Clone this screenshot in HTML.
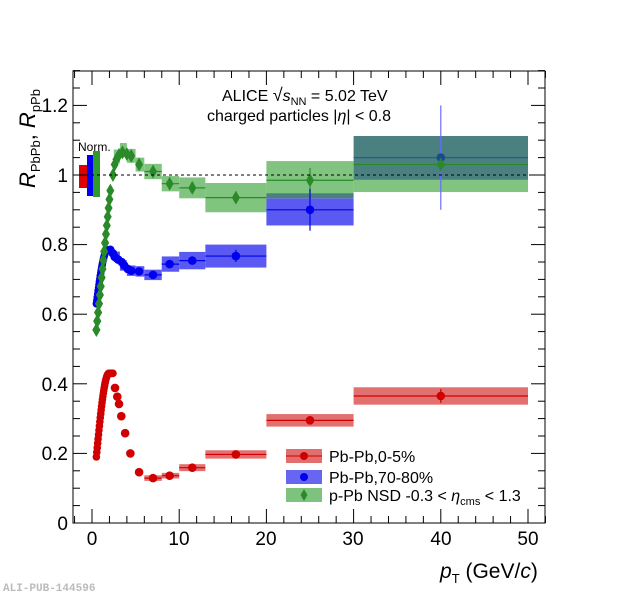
<!DOCTYPE html>
<html><head><meta charset="utf-8"><style>
body{margin:0;background:#fff;}
svg{display:block;font-family:"Liberation Sans",sans-serif;}
</style></head><body>
<svg id="s" width="620" height="595" xmlns="http://www.w3.org/2000/svg">
<rect width="620" height="595" fill="#fff"/>
<g id="boxes"></g>
<g id="pts"></g>
<line x1="73" y1="175" x2="545" y2="175" stroke="#000" stroke-dasharray="3,3" stroke-width="1"/>
<rect x="73" y="71" width="472" height="452" fill="none" stroke="#000" stroke-width="1"/>
<g id="ticks" stroke="#000" stroke-width="1"></g>
<g font-size="19" fill="#000">
<text x="92" y="545" text-anchor="middle">0</text>
<text x="179" y="545" text-anchor="middle">10</text>
<text x="266" y="545" text-anchor="middle">20</text>
<text x="353" y="545" text-anchor="middle">30</text>
<text x="441" y="545" text-anchor="middle">40</text>
<text x="528" y="545" text-anchor="middle">50</text>
<text x="68" y="530" text-anchor="end">0</text>
<text x="68" y="460" text-anchor="end">0.2</text>
<text x="68" y="391" text-anchor="end">0.4</text>
<text x="68" y="321" text-anchor="end">0.6</text>
<text x="68" y="251" text-anchor="end">0.8</text>
<text x="68" y="182" text-anchor="end">1</text>
<text x="68" y="112" text-anchor="end">1.2</text>
</g>
<text x="78" y="151" font-size="12">Norm.</text>
<text x="222" y="101" font-size="16">ALICE <tspan font-size="18">√</tspan><tspan font-style="italic">s</tspan><tspan font-size="11" dy="4">NN</tspan><tspan dy="-4"> = 5.02 TeV</tspan></text>
<text x="207" y="121" font-size="16">charged particles |<tspan font-style="italic">η</tspan>| &lt; 0.8</text>
<text transform="translate(35,188) rotate(-90)" font-size="22"><tspan font-style="italic">R</tspan><tspan font-size="13" dy="5">PbPb</tspan><tspan dy="-5">, </tspan><tspan font-style="italic">R</tspan><tspan font-size="13" dy="5">pPb</tspan></text>
<text x="440" y="578" font-size="21"><tspan font-style="italic">p</tspan><tspan font-size="13" dy="5">T</tspan><tspan dy="-5"> (GeV/</tspan><tspan font-style="italic">c</tspan>)</text>
<text x="3" y="591" font-size="11" font-family="Liberation Mono,monospace" font-weight="bold" fill="#bbb">ALI-PUB-144596</text>
<g font-size="16">
<rect x="286" y="449" width="36" height="14" fill="#dd5555" opacity="0.85"/><line x1="286" y1="456" x2="322" y2="456" stroke="#c00"/><circle cx="304" cy="456" r="4" fill="#c00"/>
<text x="329" y="462">Pb-Pb,0-5%</text>
<rect x="286" y="470" width="36" height="14" fill="#5555ee" opacity="0.9"/><circle cx="304" cy="477" r="4" fill="#00e"/>
<text x="329" y="483">Pb-Pb,70-80%</text>
<rect x="286" y="488" width="36" height="14" fill="#66b866" opacity="0.85"/><path d="M304,489 l3.5,6 l-3.5,6 l-3.5,-6z" fill="#2a8a2a"/>
<text x="329" y="501">p-Pb NSD -0.3 &lt; <tspan font-style="italic">η</tspan><tspan font-size="11" dy="4">cms</tspan><tspan dy="-4"> &lt; 1.3</tspan></text>
</g>
</svg>
<script>
var X=function(v){return 92+v*8.72},Y=function(v){return 523-v*348};
var NS="http://www.w3.org/2000/svg";
function el(p,t,a){var e=document.createElementNS(NS,t);for(var k in a)e.setAttribute(k,a[k]);p.appendChild(e);return e;}
var tk=document.getElementById('ticks');
for(var i=-2;i<=52;i+=2){var L=(i%10==0)?14:7;el(tk,'line',{x1:X(i),x2:X(i),y1:523,y2:523-L});el(tk,'line',{x1:X(i),x2:X(i),y1:71,y2:71+L});}
for(var j=0;j<=26;j++){var v=j*0.05;var L=(j%4==0)?14:7;el(tk,'line',{x1:73,x2:73+L,y1:Y(v),y2:Y(v)});el(tk,'line',{x1:545,x2:545-L,y1:Y(v),y2:Y(v)});}
var bx=document.getElementById('boxes');
function box(a,b,lo,hi,c,op){el(bx,'rect',{x:X(a),y:Y(hi),width:X(b)-X(a),height:Y(lo)-Y(hi),fill:c,opacity:op});}
el(bx,'rect',{x:79,y:165,width:8,height:23,fill:'#dd0000'});
el(bx,'rect',{x:87,y:155,width:6,height:41,fill:'#0000ee'});
el(bx,'rect',{x:93,y:151,width:7,height:46,fill:'#2e9a2e'});
var R='#e06060',B='#5a5af2',G='#80c480',T='#4a8080';
[[6,8,0.129,0.008],[8,10,0.136,0.008],[10,13,0.159,0.01],[13,20,0.197,0.012],[20,30,0.295,0.018],[30,50,0.365,0.025]].forEach(function(d){box(d[0],d[1],d[2]-d[3],d[2]+d[3],R,0.9);});
[[2.5,3.2,1.053,0.02],[3.2,4,1.072,0.02],[4,5,1.055,0.02],[5,6,1.03,0.02],[6,8,1.01,0.022],[8,10,0.975,0.022],[10,13,0.963,0.03],[13,20,0.935,0.042]].forEach(function(d){box(d[0],d[1],d[2]-d[3],d[2]+d[3],G,1);});
[[2.5,3.2,0.765,0.015],[3.2,4,0.74,0.015],[4,5,0.725,0.015],[5,6,0.723,0.015],[6,8,0.713,0.015],[8,10,0.744,0.022],[10,13,0.754,0.025],[13,20,0.767,0.033]].forEach(function(d){box(d[0],d[1],d[2]-d[3],d[2]+d[3],B,1);});
box(20,30,0.855,0.933,B,1);box(20,30,0.933,0.948,T,1);box(20,30,0.948,1.04,G,1);
box(30,50,0.951,0.986,G,1);box(30,50,0.986,1.112,T,1);
var pg=document.getElementById('pts');
function hl(a,b,v,c){el(pg,'line',{x1:X(a),x2:X(b),y1:Y(v),y2:Y(v),stroke:c,'stroke-width':1.2});}
function vl(x,a,b,c){el(pg,'line',{x1:X(x),x2:X(x),y1:Y(a),y2:Y(b),stroke:c,'stroke-width':1.2});}
function dot(x,v,c,r){el(pg,'circle',{cx:X(x),cy:Y(v),r:r||4,fill:c});}
function dia(x,v,c){var cx=X(x),cy=Y(v);el(pg,'path',{d:'M'+cx+','+(cy-7)+' l4,7 l-4,7 l-4,-7z',fill:c});}
var rc='#d00000',bc='#0000ee',gc='#2a8a2a';
for(var p=0.5;p<=2.4;p+=0.05){var v=0.19+0.24*Math.sin(Math.min(1,(p-0.5)/1.45)*Math.PI/2);dot(p,v,rc,3.8);}
[[2.64,0.388],[2.9,0.363],[3.1,0.342],[3.36,0.307],[3.8,0.258],[4.4,0.2],[5.4,0.146],[7,0.129],[8.9,0.136],[11.5,0.159],[16.5,0.197],[25,0.295],[40,0.365]].forEach(function(d){dot(d[0],d[1],rc,4.3);});
[[6,8,0.129],[8,10,0.136],[10,13,0.159],[13,20,0.197],[20,30,0.295],[30,50,0.365]].forEach(function(d){hl(d[0],d[1],d[2],rc);});
vl(40,0.345,0.385,rc);
for(var p=0.5;p<=2.2;p+=0.1){var v=0.555+(0.98-0.555)*Math.pow((p-0.5)/1.7,1.0);dia(p,v,gc);}
[[2.4,1.0],[2.6,1.03],[2.8,1.045],[3.1,1.058],[3.5,1.065],[4,1.06],[4.5,1.055],[5.4,1.03],[7,1.01],[8.9,0.975],[11.5,0.963],[16.5,0.935],[25,0.985]].forEach(function(d){dia(d[0],d[1],gc);});
[[6,8,1.01],[8,10,0.975],[10,13,0.963],[13,20,0.935],[20,30,0.985],[30,50,1.03]].forEach(function(d){hl(d[0],d[1],d[2],gc);});
vl(25,0.95,1.02,gc);
for(var p=0.5;p<=1.8;p+=0.05){var v=0.63+0.155*Math.sin(Math.min(1,(p-0.5)/1.3)*Math.PI/2);dot(p,v,bc,3.8);}
[[2.1,0.785],[2.4,0.775],[2.6,0.765],[3,0.757],[3.4,0.75],[3.7,0.74],[4.1,0.73],[4.5,0.725],[5.4,0.723],[7,0.713],[8.9,0.744],[11.5,0.754],[16.5,0.767],[25,0.9]].forEach(function(d){dot(d[0],d[1],bc,4.3);});
[[6,8,0.713],[8,10,0.744],[10,13,0.754],[13,20,0.767],[20,30,0.9]].forEach(function(d){hl(d[0],d[1],d[2],bc);});
hl(30,50,1.05,'#2a5a80');
vl(16.5,0.75,0.785,bc);vl(25,0.84,0.96,bc);vl(40,0.9,1.2,'#6a6aff');
dot(40,1.05,'#1a4a90',4.3);
dia(40,1.03,gc);
for(var p=0.5;p<=1.6;p+=0.1){var v=0.555+(0.98-0.555)*Math.pow((p-0.5)/1.7,1.0);dia(p,v,gc);}
</script>
</body></html>
